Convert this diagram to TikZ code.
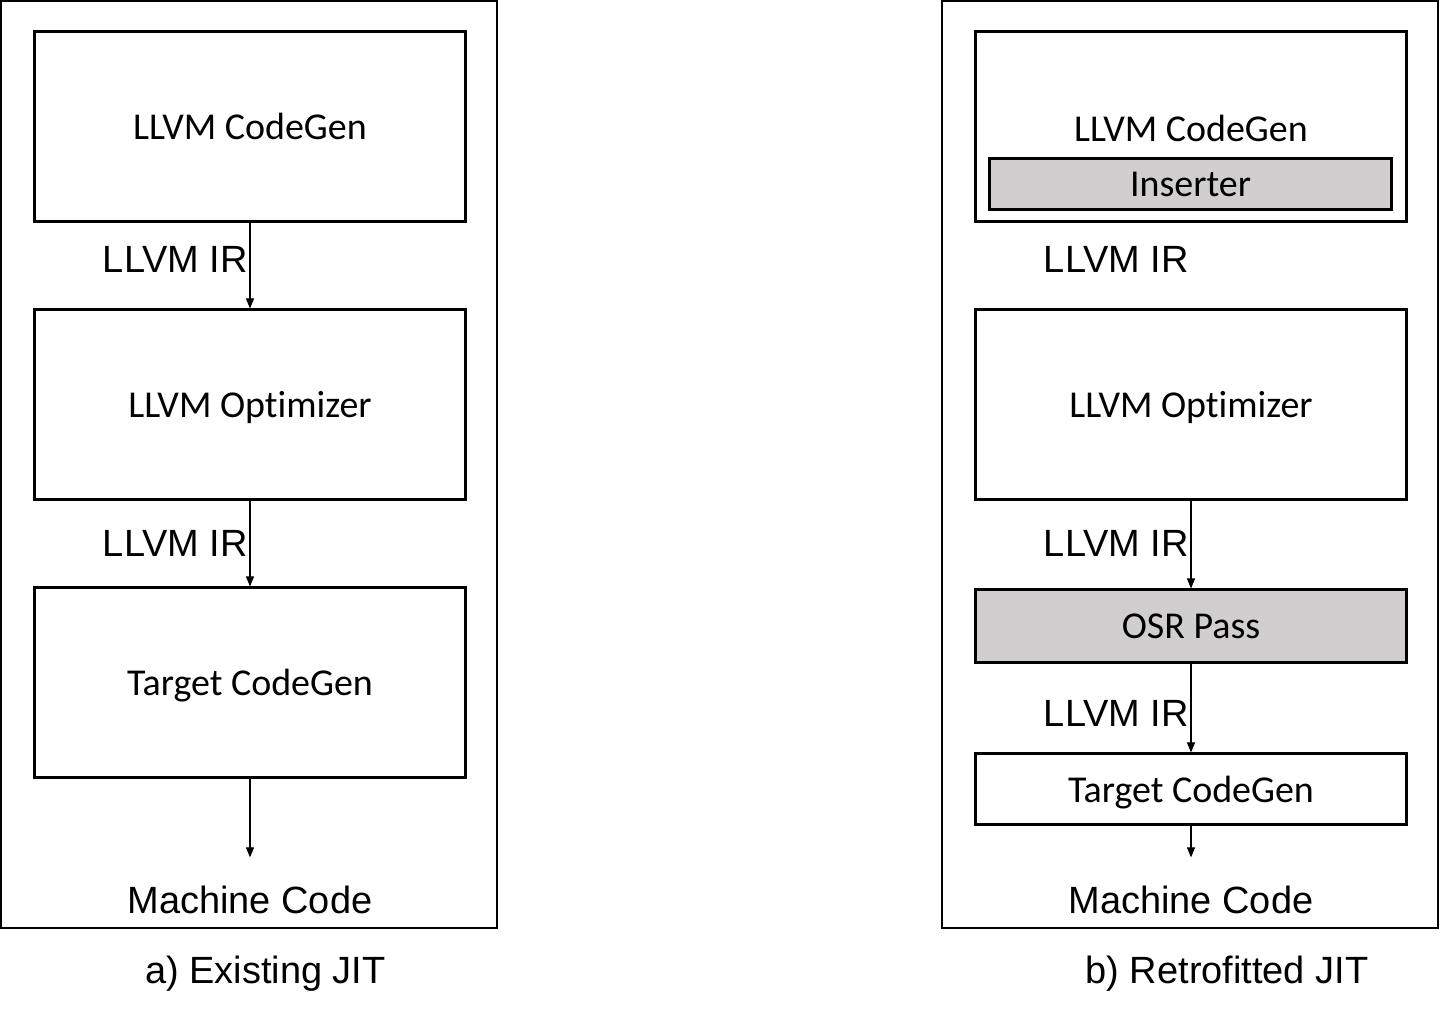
\documentclass[tikz,border=0pt]{standalone}
\usepackage{fontspec}
\setmainfont{Liberation Sans}
\newfontfamily\calfont[Ligatures=NoCommon]{Carlito}
\usetikzlibrary{arrows.meta, positioning}
\definecolor{passgray}{RGB}{208, 206, 206}

\tikzset{
  stage/.style={draw, line width=0.6pt, minimum width=4.31cm, inner sep=0pt, text depth=0pt, font=\calfont\fontsize{10.8}{12}\selectfont},
  bigstage/.style={stage, minimum height=1.90cm},
  passbox/.style={stage, fill=passgray},
  irlabel/.style={anchor=east, inner sep=0pt, font=\fontsize{10.8}{12}\selectfont},
  outlabel/.style={inner sep=0pt, font=\fontsize{10.8}{12}\selectfont},
  flow/.style={line width=0.3pt, -{Triangle[length=0.1cm, width=0.08cm]}},
  frame/.style={line width=0.6pt}
}

\begin{document}
\begin{tikzpicture}
  \useasboundingbox (0, 0) rectangle (14.4, -10.18);

  % a) existing JIT
  \draw[frame] (0.01, -0.01) rectangle (4.97, -9.28);
  \node[bigstage] (cg1) at (2.50, -1.265) {LLVM CodeGen};
  \node[bigstage] (opt1) at (2.50, -4.045) {LLVM Optimizer};
  \node[bigstage] (tcg1) at (2.50, -6.825) {Target CodeGen};
  \node[outlabel] (mc1) at (2.50, -9.00) {Machine Code};

  \draw[flow] (cg1.south) -- (opt1.north);
  \draw[flow] (opt1.south) -- (tcg1.north);
  \draw[flow, shorten >=0.28cm] (tcg1.south) -- (mc1.north);

  \node[irlabel] (ir1) at (2.485, -2.59) {LLVM IR};
  \node[irlabel] (ir2) at (2.485, -5.43) {LLVM IR};

  \node[outlabel] (capa) at (2.655, -9.74) {a) Existing JIT};

  % b) retrofitted JIT
  \draw[frame] (9.42, -0.01) rectangle (14.38, -9.28);
  \node[bigstage] (cg2) at (11.91, -1.265) {};
  \node[outlabel, text depth=0pt, font=\calfont\fontsize{10.8}{12}\selectfont] (cg2t) at (11.91, -1.28) {LLVM CodeGen};
  \node[passbox, minimum width=4.02cm, minimum height=0.51cm] (ins) at (11.905, -1.84) {Inserter};
  \node[bigstage] (opt2) at (11.91, -4.045) {LLVM Optimizer};
  \node[passbox, minimum height=0.73cm] (osr) at (11.91, -6.26) {OSR Pass};
  \node[stage, minimum height=0.71cm] (tcg2) at (11.91, -7.89) {Target CodeGen};
  \node[outlabel] (mc2) at (11.91, -9.00) {Machine Code};

  \draw[flow] (opt2.south) -- (osr.north);
  \draw[flow] (osr.south) -- (tcg2.north);
  \draw[flow, shorten >=0.28cm] (tcg2.south) -- (mc2.north);

  \node[irlabel] (ir3) at (11.895, -2.59) {LLVM IR};
  \node[irlabel] (ir4) at (11.895, -5.43) {LLVM IR};
  \node[irlabel] (ir5) at (11.895, -7.13) {LLVM IR};

  \node[outlabel] (capb) at (12.27, -9.74) {b) Retrofitted JIT};
\end{tikzpicture}
\end{document}
